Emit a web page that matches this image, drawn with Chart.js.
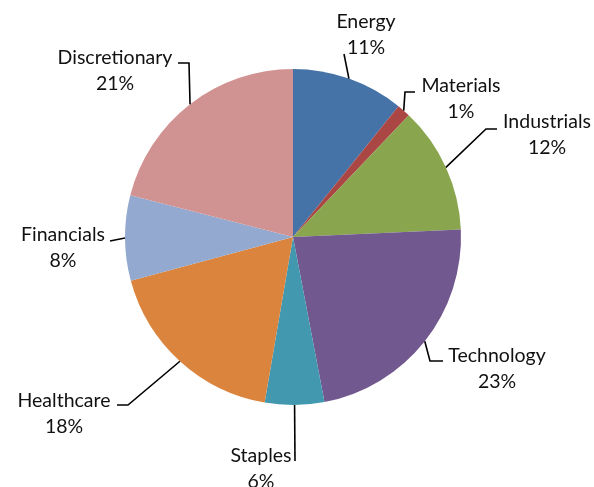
<!DOCTYPE html>
<html>
<head>
<meta charset="utf-8">
<script src="https://cdn.jsdelivr.net/npm/chart.js@4"></script>
<style>
  html, body { margin: 0; padding: 0; background: #fff; }
  canvas { display: block; }
</style>
</head>
<body>
<canvas id="sector-chart" width="594" height="487"></canvas>
<script>
// Data
const sectors = ['Energy', 'Materials', 'Industrials', 'Technology', 'Staples', 'Healthcare', 'Financials', 'Discretionary'];
const weights = [10.8, 1.3, 12.2, 22.7, 5.7, 18.1, 8.2, 21.0];
const percentLabels = ['11%', '1%', '12%', '23%', '6%', '18%', '8%', '21%'];

const sliceColors = ['#4572A7', '#AA4643', '#89A54E', '#71588F', '#4198AF', '#DB843D', '#93A9CF', '#D19392'];

// Label placement (text centre x, first baseline y) and leader bend points
const labelSpots = [
    { x: 366, y: 28, path: [[344, 54]] },
    { x: 461, y: 92, path: [[405, 92], [415, 92]] },
    { x: 547, y: 128, path: [[486, 129], [497, 129]] },
    { x: 497, y: 362, path: [[430, 361], [443, 361]] },
    { x: 261, y: 462, path: [[295, 461]] },
    { x: 64, y: 407, path: [[128, 405], [117, 405]] },
    { x: 63, y: 241, path: [[110, 241]] },
    { x: 115, y: 64, path: [[189, 63], [178, 63]] }
];

// Draws leader lines and two-line labels
const leaderLabels = {
    id: 'leaderLabels',
    afterDatasetsDraw(chart) {
        const ctx = chart.ctx;
        const meta = chart.getDatasetMeta(0);
        ctx.save();
        meta.data.forEach((arc, i) => {
            const mid = (arc.startAngle + arc.endAngle) / 2;
            const sx = arc.x + Math.cos(mid) * arc.outerRadius;
            const sy = arc.y + Math.sin(mid) * arc.outerRadius;
            const spot = labelSpots[i];
            ctx.beginPath();
            ctx.moveTo(sx, sy);
            spot.path.forEach(p => ctx.lineTo(p[0], p[1]));
            ctx.strokeStyle = '#000';
            ctx.lineWidth = 1.6;
            ctx.stroke();

            ctx.fillStyle = '#111';
            ctx.font = '19.5px Lato';
            ctx.textAlign = 'center';
            ctx.textBaseline = 'alphabetic';
            ctx.fillText(sectors[i], spot.x, spot.y);
            ctx.fillText(percentLabels[i], spot.x, spot.y + 26);
        });
        ctx.restore();
    }
};

new Chart(document.getElementById('sector-chart').getContext('2d'), {
    type: 'pie',
    data: {
        labels: sectors,
        datasets: [{
            data: weights,
            backgroundColor: sliceColors,
            borderWidth: 0
        }]
    },
    options: {
        responsive: false,
        animation: false,
        layout: {
            padding: { left: 125, right: 133, top: 69, bottom: 82 }
        },
        plugins: {
            legend: { display: false },
            tooltip: { enabled: false }
        }
    },
    plugins: [leaderLabels]
});
</script>
</body>
</html>
